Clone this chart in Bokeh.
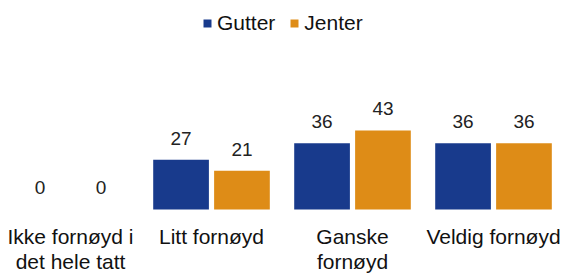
from bokeh.plotting import figure
from bokeh.models import ColumnDataSource, Range1d, Legend, LegendItem
from bokeh.transform import dodge
from bokeh.core.properties import value
from bokeh.embed import file_html
from bokeh.resources import INLINE

categories = ["Ikke fornøyd i\ndet hele tatt", "Litt fornøyd", "Ganske\nfornøyd", "Veldig fornøyd"]
gutter = [0, 27, 36, 36]
jenter = [0, 21, 43, 36]
series_names = ["Gutter", "Jenter"]

BLUE = "#183a8c"
ORANGE = "#de8c17"
FONT = "Liberation Sans"

pos = list(range(len(categories)))
src = ColumnDataSource(dict(
    x=pos, cat=categories, gutter=gutter, jenter=jenter,
    g_lbl=[str(v) for v in gutter], j_lbl=[str(v) for v in jenter],
    zero=[0] * len(pos),
))

p = figure(width=561, height=273, output_backend="svg", toolbar_location=None,
           x_range=Range1d(-0.4965, 3.4822), y_range=Range1d(-34.8, 113.6),
           min_border=0, min_border_left=0, min_border_right=0,
           min_border_top=0, min_border_bottom=0)
p.outline_line_color = None
p.xgrid.visible = False
p.ygrid.visible = False
p.xaxis.visible = False
p.yaxis.visible = False
p.background_fill_color = "white"
p.border_fill_color = "white"

bw = 0.395
off = 0.216
rg = p.vbar(x=dodge("x", -off, range=p.x_range), top="gutter", width=bw, source=src,
            fill_color=BLUE, line_color=None)
rj = p.vbar(x=dodge("x", off, range=p.x_range), top="jenter", width=bw, source=src,
            fill_color=ORANGE, line_color=None)

p.text(x=dodge("x", -off, range=p.x_range), y="gutter", text="g_lbl", source=src,
       text_align="center", text_baseline="bottom", y_offset=-15,
       text_font=value(FONT), text_font_size="19px", text_color="#222222")
p.text(x=dodge("x", off, range=p.x_range), y="jenter", text="j_lbl", source=src,
       text_align="center", text_baseline="bottom", y_offset=-15,
       text_font=value(FONT), text_font_size="19px", text_color="#222222")

p.text(x="x", y="zero", text="cat", source=src, text_align="center",
       text_baseline="top", y_offset=16, text_line_height=1.05,
       text_font=value(FONT), text_font_size="21px", text_color="#111111")

legend = Legend(items=[LegendItem(label=series_names[0], renderers=[rg]),
                       LegendItem(label=series_names[1], renderers=[rj])],
                orientation="horizontal", location=(202, 238),
                glyph_width=10, glyph_height=10, label_text_font=FONT,
                label_text_font_size="21px", label_text_color="#111111",
                border_line_color=None, background_fill_alpha=0,
                padding=0, margin=0, spacing=14, label_standoff=5)
p.add_layout(legend)

open("out.html", "w").write(file_html(p, INLINE))
